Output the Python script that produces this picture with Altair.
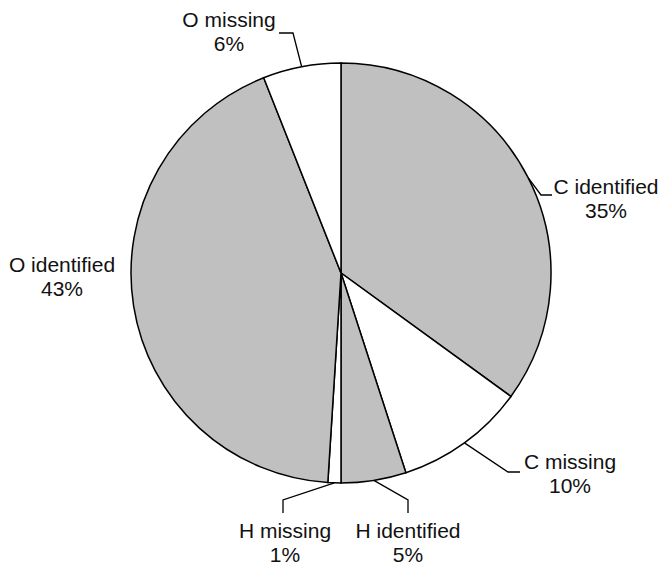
import math
import altair as alt
import pandas as pd

# ---- data ----
elements = ["C", "C", "H", "H", "O", "O"]
status = ["identified", "missing", "identified", "missing", "identified", "missing"]
shares = [35, 10, 5, 1, 43, 6]

# ---- layout (page pixels) ----
CX, CY, R = 341, 273, 210
X0, X1, Y0, Y1 = 8, 660, 8, 565

# label anchor (centre x, first baseline y); leader elbow & end (None = no leader)
label_pos = [(606, 194), (570, 469), (408, 538), (285, 538), (62, 272), (229, 27)]
elbows = [(541, 195), (508, 472), (408, 500), (283, 500), None, (293, 33)]
ends = [(552, 195), (520, 472), (408, 513), (283, 513), None, (279, 33)]

names = [f"{e} {s}" for e, s in zip(elements, status)]
pie_df = pd.DataFrame({"name": names, "status": status, "share": shares,
                       "idx": list(range(len(shares)))})

# leader lines start at the slice mid-angle on the rim
total = sum(shares)
rows = []
cum = 0
for i, v in enumerate(shares):
    mid = (cum + v / 2) / total * 2 * math.pi
    cum += v
    if elbows[i] is None:
        continue
    sx = CX + R * math.sin(mid)
    sy = CY - R * math.cos(mid)
    for k, (px, py) in enumerate([(sx, sy), elbows[i], ends[i]]):
        rows.append({"name": names[i], "k": k, "px": px, "py": py})
lead_df = pd.DataFrame(rows)

lab_df = pd.DataFrame({
    "text": [f"{n}\n{v}%" for n, v in zip(names, shares)],
    "px": [p[0] for p in label_pos],
    "py": [p[1] for p in label_pos],
})

xs = alt.Scale(domain=[X0, X1], nice=False, zero=False)
ys = alt.Scale(domain=[Y0, Y1], nice=False, zero=False, reverse=True)

pie = alt.Chart(pie_df).mark_arc(
    outerRadius=R, stroke="black", strokeWidth=1.5
).encode(
    theta=alt.Theta("share:Q", stack=True),
    order=alt.Order("idx:Q"),
    color=alt.Color("status:N",
                    scale=alt.Scale(domain=["identified", "missing"],
                                    range=["#c0c0c0", "#ffffff"]),
                    legend=None),
    x=alt.value(CX - X0),
    y=alt.value(CY - Y0),
)

leaders = alt.Chart(lead_df).mark_line(
    color="black", strokeWidth=1.3
).encode(
    x=alt.X("px:Q", scale=xs, axis=None),
    y=alt.Y("py:Q", scale=ys, axis=None),
    detail="name:N",
    order="k:Q",
)

labels = alt.Chart(lab_df).mark_text(
    font="Liberation Sans", fontSize=21, lineBreak="\n", lineHeight=24,
    align="center", baseline="alphabetic", color="#111111"
).encode(
    x=alt.X("px:Q", scale=xs, axis=None),
    y=alt.Y("py:Q", scale=ys, axis=None),
    text="text:N",
)

chart = alt.layer(pie, leaders, labels).properties(
    width=X1 - X0, height=Y1 - Y0,
    autosize=alt.AutoSizeParams(type="none"),
    padding=0,
).configure_view(stroke=None)

chart.save("out.html", embed_options={"renderer": "svg", "actions": False})
